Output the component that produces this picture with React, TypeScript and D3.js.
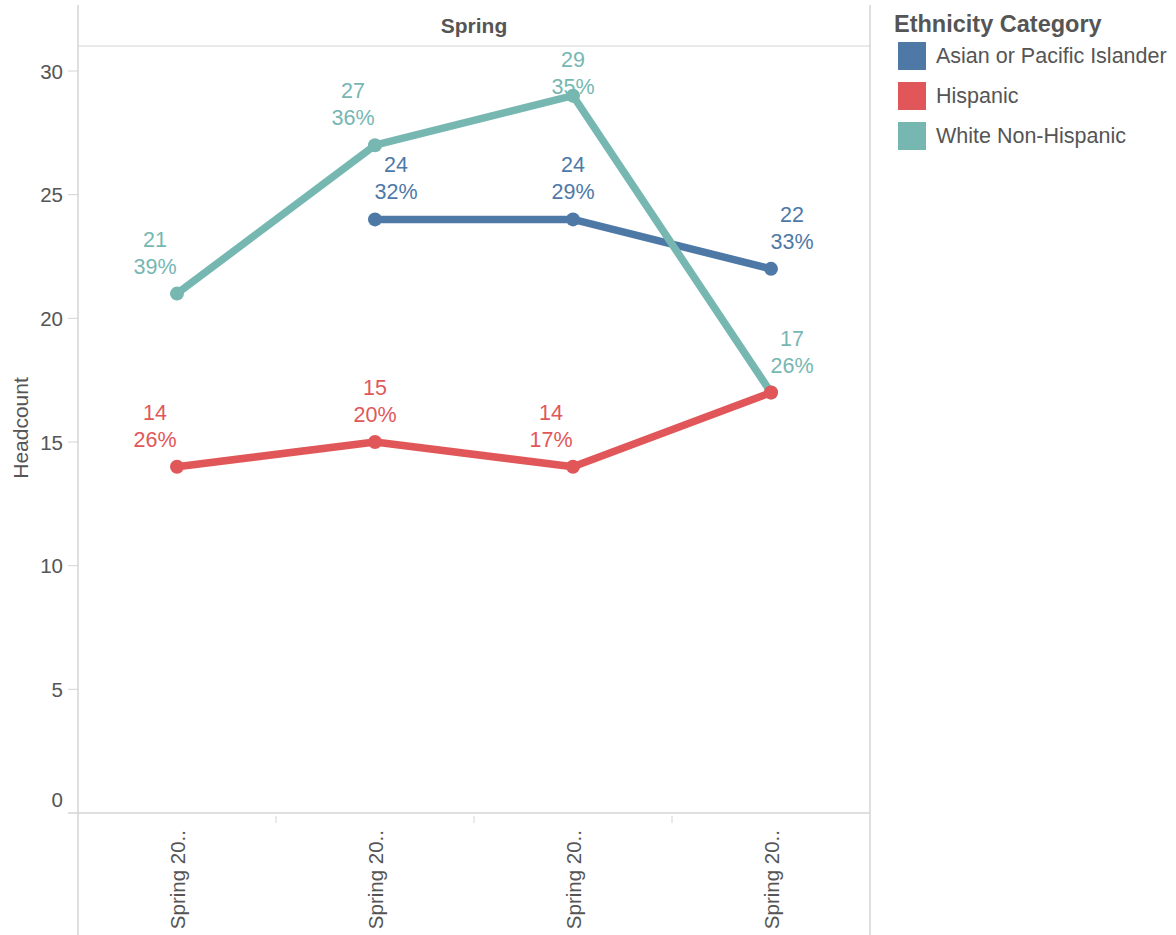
import React from "react";
import * as d3 from "d3";

const periods = ["Spring 20..", "Spring 20..", "Spring 20..", "Spring 20.."];
const seriesNames = ["Asian or Pacific Islander", "Hispanic", "White Non-Hispanic"];
const asianCounts: (number | null)[] = [null, 24, 24, 22];
const asianPct: (number | null)[] = [null, 32, 29, 33];
const hispanicCounts: (number | null)[] = [14, 15, 14, 17];
const hispanicPct: (number | null)[] = [26, 20, 17, 26];
const whiteCounts: (number | null)[] = [21, 27, 29, 17];
const whitePct: (number | null)[] = [39, 36, 35, 26];
const yTicks = [0, 5, 10, 15, 20, 25, 30];
const colors = ["#4e79a7", "#e15759", "#76b7b2"];
// label nudges (layout only); null = label hidden (overlap) as in the reference
const labelNudge: (number | null)[][] = [
  [0, 21, 0, 21],
  [-22, 0, -22, null],
  [-22, -22, 0, 21],
];
const labelDy: number[][] = [
  [0, 0, 0, 0],
  [0, 0, 0, 0],
  [0, 0, 18, 0],
];

const series = [
  { name: seriesNames[0], counts: asianCounts, pct: asianPct, color: colors[0], nudge: labelNudge[0], dy: labelDy[0] },
  { name: seriesNames[1], counts: hispanicCounts, pct: hispanicPct, color: colors[1], nudge: labelNudge[1], dy: labelDy[1] },
  { name: seriesNames[2], counts: whiteCounts, pct: whitePct, color: colors[2], nudge: labelNudge[2], dy: labelDy[2] },
];
const drawOrder = [0, 2, 1];

export default function App() {
  const W = 1176, H = 935;
  const left = 78, right = 870, top = 46, bottom = 813;
  const x = d3.scaleBand<number>().domain(periods.map((_, i) => i)).range([left, right]);
  const y = d3.scaleLinear().domain([0, 30]).range([bottom, 71]);
  const font = "'Liberation Sans', Arial, sans-serif";
  const txt = "#555555";
  const grid = "#d4d4d4";
  const cx = (i: number) => (x(i) as number) + x.bandwidth() / 2;

  return (
    <svg width={W} height={H} style={{ position: "absolute", left: 0, top: 0 }} fontFamily={font}>
      <rect width={W} height={H} fill="#fff" />
      {/* frame */}
      <line x1={left} x2={left} y1={5} y2={935} stroke={grid} strokeWidth={1.5} />
      <line x1={right} x2={right} y1={5} y2={935} stroke={grid} strokeWidth={1.5} />
      <line x1={left} x2={right} y1={top} y2={top} stroke={grid} strokeWidth={1} />
      <line x1={68} x2={right} y1={bottom} y2={bottom} stroke={grid} strokeWidth={1.5} />
      <text x={(left + right) / 2} y={25} textAnchor="middle" dominantBaseline="central" fontSize={21} fontWeight="bold" fill={txt}>Spring</text>
      {/* y axis */}
      {yTicks.map((t) => (
        <g key={t}>
          {t > 0 && <line x1={68} x2={left} y1={y(t)} y2={y(t)} stroke={grid} strokeWidth={1} />}
          <text x={63} y={t === 0 ? y(t) - 14 : y(t)} textAnchor="end" dominantBaseline="central" fontSize={20.5} fill={txt}>{t}</text>
        </g>
      ))}
      <text transform={`translate(20,428) rotate(-90)`} textAnchor="middle" dominantBaseline="central" fontSize={21} fill={txt}>Headcount</text>
      {/* x axis */}
      {periods.map((p, i) => (
        <g key={i}>
          {i > 0 && <line x1={x(i) as number} x2={x(i) as number} y1={bottom + 3} y2={bottom + 10} stroke={grid} strokeWidth={1} />}
          <text transform={`translate(${cx(i)},${bottom + 17}) rotate(-90)`} textAnchor="end" dominantBaseline="central" fontSize={20.5} fill={txt}>{p}</text>
        </g>
      ))}
      {/* lines */}
      {drawOrder.map((si) => {
        const s = series[si];
        const line = d3.line<number | null>()
          .defined((d) => d !== null)
          .x((_, i) => cx(i))
          .y((d) => y(d as number));
        return (
          <g key={s.name}>
            <path d={line(s.counts) || ""} fill="none" stroke={s.color} strokeWidth={7.5} strokeLinejoin="round" />
            {s.counts.map((v, i) => v === null ? null : (
              <circle key={i} cx={cx(i)} cy={y(v)} r={7} fill={s.color} />
            ))}
          </g>
        );
      })}
      {/* labels */}
      {series.map((s) => (
        <g key={s.name + "-lbl"}>
          {s.counts.map((v, i) => v === null || s.nudge[i] === null ? null : (
            <g key={i} fill={s.color} fontSize={21.5} textAnchor="middle">
              <text x={cx(i) + (s.nudge[i] as number)} y={y(v) - 54 + s.dy[i]} dominantBaseline="central">{v}</text>
              <text x={cx(i) + (s.nudge[i] as number)} y={y(v) - 27 + s.dy[i]} dominantBaseline="central">{s.pct[i]}%</text>
            </g>
          ))}
        </g>
      ))}
      {/* legend */}
      <text x={894} y={24} dominantBaseline="central" fontSize={23.5} fontWeight="bold" fill={txt}>Ethnicity Category</text>
      {series.map((s, i) => (
        <g key={s.name + "-leg"}>
          <rect x={898} y={42 + i * 40} width={28} height={28} fill={s.color} />
          <text x={936} y={56 + i * 40} dominantBaseline="central" fontSize={21.5} fill={txt}>{s.name}</text>
        </g>
      ))}
    </svg>
  );
}
